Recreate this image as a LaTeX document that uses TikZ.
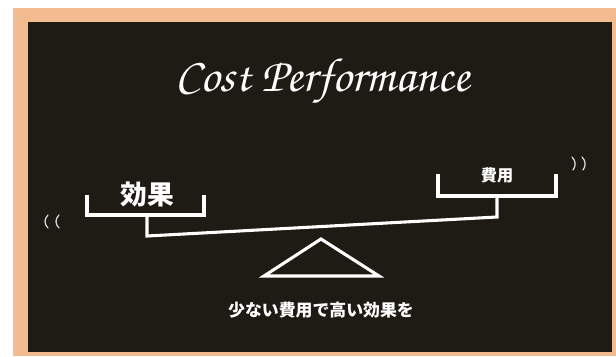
\documentclass[tikz,border=0pt]{standalone}
\usepackage[T1]{fontenc}
\usepackage{fontspec}
\newfontfamily\jpfont{Noto Sans CJK JP}
\usetikzlibrary{positioning}

\definecolor{frame}{HTML}{F3BC90}
\definecolor{board}{HTML}{1E1B14}
\definecolor{chalkgray}{HTML}{D8D8D8}

\newcommand{\handfont}{\fontencoding{T1}\fontfamily{pzc}\fontseries{mb}\fontshape{it}\selectfont}

\tikzset{
  chalk/.style={draw=white, line width=2.2pt, line join=miter},
  wobble/.style={draw=chalkgray, line width=0.9pt, line cap=round},
  jplabel/.style={text=white, inner sep=0pt, font=\jpfont\bfseries},
  title/.style={text=white, inner sep=0pt, font=\handfont\fontsize{34}{40}\selectfont}
}

\begin{document}
\begin{tikzpicture}[x=0.025cm, y=-0.025cm]
  \useasboundingbox (0,0) rectangle (616,356);
  % board with its frame
  \fill[frame] (13,8) rectangle (616,356);
  \fill[board] (28,22) rectangle (612,352);

  \node[title] (title) at (323,82) {Cost Performance};

  % left pan
  \coordinate (ltl) at (87,195);
  \coordinate (ltr) at (204,195);
  \coordinate (lbot) at (147,215);
  \coordinate (lend) at (147,236);
  % right pan
  \coordinate (rtl) at (438,174);
  \coordinate (rtr) at (556,174);
  \coordinate (rbot) at (497,196);
  \coordinate (rend) at (497,217);

  \node[jplabel, font=\jpfont\bfseries\fontsize{19}{22}\selectfont] (kouka) at (147,194) {効果};
  \node[jplabel, font=\jpfont\bfseries\fontsize{11.5}{14}\selectfont] (hiyou) at (497,175) {費用};

  \draw[chalk] (ltl) |- (lbot) -| (ltr);
  \draw[chalk] (rtl) |- (rbot) -| (rtr);
  % beam
  \draw[chalk] (lbot) -- (lend) -- (rend) -- (rbot);

  % fulcrum
  \coordinate (apex) at (321,239);
  \coordinate (fl) at (264,276);
  \coordinate (fr) at (379,276);
  \draw[chalk] (fl) -- (apex) -- (fr) -- cycle;

  % wobble marks
  \draw[wobble] (48,215) .. controls (44,219) and (44,224) .. (48,228);
  \draw[wobble] (59,215) .. controls (55,219) and (55,224) .. (59,228);
  \draw[wobble] (572,157) .. controls (576,161) and (576,166) .. (573,170);
  \draw[wobble] (582,157) .. controls (586,161) and (586,166) .. (583,170);

  \node[jplabel, font=\jpfont\bfseries\fontsize{12}{14}\selectfont] (motto) at (321,310) {少ない費用で高い効果を};
\end{tikzpicture}
\end{document}
